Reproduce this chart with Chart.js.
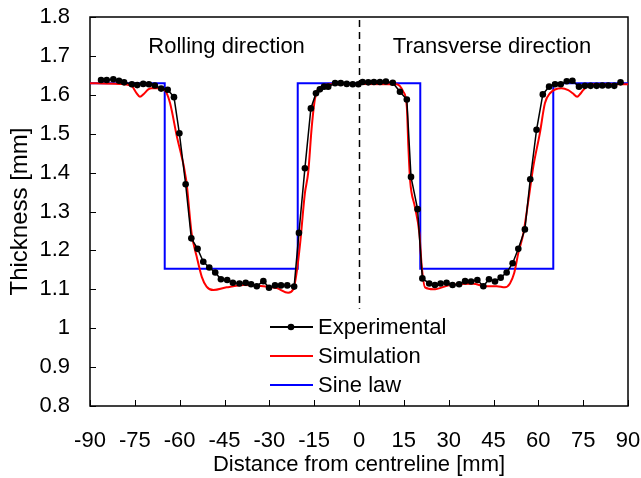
<!DOCTYPE html>
<html>
<head>
<meta charset="utf-8">
<script src="https://cdn.jsdelivr.net/npm/chart.js@4.4.1/dist/chart.umd.min.js"></script>
<style>
  html, body { margin: 0; padding: 0; background: #fff; }
</style>
</head>
<body>
<canvas id="chart" width="641" height="478"></canvas>
<script>
const FONT = '"Liberation Sans", Arial, sans-serif';

// axis ticks
const xTickValues = [-90, -75, -60, -45, -30, -15, 0, 15, 30, 45, 60, 75, 90];
const yTickValues = [0.8, 0.9, 1.0, 1.1, 1.2, 1.3, 1.4, 1.5, 1.6, 1.7, 1.8];

// Experimental (measured thickness)
const expX = [-86.3, -84.4, -82.2, -80.3, -78.6, -76.0, -74.2, -72.2, -70.3, -68.3, -66.2, -64.0, -61.9, -60.1,
  -58.0, -56.1, -54.0, -52.1, -50.1, -48.1, -46.2, -44.1, -42.2, -40.0, -37.9, -36.1, -34.2, -32.0, -30.1, -28.1, -26.1, -24.0, -21.7,
  -20.1, -18.1, -16.1, -14.4, -13.1, -11.7, -10.3, -8.0, -6.1, -4.1, -2.1, -0.2, 1.2, 3.1, 5.0, 7.0, 9.0, 11.3, 13.7, 16.0,
  17.4, 19.6, 21.2, 23.5, 25.4, 27.3, 29.3, 31.3, 33.5, 35.5, 37.5, 39.6, 41.6, 43.5, 45.5, 47.4, 49.4, 51.4, 53.3, 55.5,
  57.3, 59.4, 61.5, 63.6, 65.6, 67.5, 69.5, 71.4, 73.6, 75.6, 77.5, 79.5, 81.4, 83.4, 85.4, 87.5];
const expY = [1.638, 1.638, 1.640, 1.636, 1.632, 1.627, 1.625, 1.628, 1.627, 1.624, 1.616, 1.613, 1.594, 1.501,
  1.370, 1.231, 1.204, 1.171, 1.156, 1.143, 1.126, 1.124, 1.117, 1.115, 1.117, 1.113, 1.108, 1.121, 1.104, 1.110, 1.110, 1.110, 1.107,
  1.245, 1.411, 1.565, 1.604, 1.614, 1.621, 1.621, 1.630, 1.630, 1.628, 1.627, 1.627, 1.633, 1.632, 1.633, 1.633, 1.634, 1.631, 1.608, 1.588,
  1.389, 1.306, 1.128, 1.115, 1.111, 1.115, 1.117, 1.111, 1.113, 1.121, 1.120, 1.124, 1.108, 1.126, 1.120, 1.130, 1.143, 1.167, 1.204, 1.254,
  1.383, 1.510, 1.601, 1.621, 1.627, 1.627, 1.635, 1.636, 1.621, 1.623, 1.623, 1.623, 1.624, 1.624, 1.623, 1.632];

// Simulation
const simX = [-90, -80, -76, -74.5, -73.3, -72, -70.5, -69.4, -66.6, -64.6, -63.2, -61, -57.8, -56, -54.3, -52.6, -51, -48.7,
  -44.3, -38.7, -32, -27.5, -23.7, -22, -20.9, -19.7, -18.1, -17, -15.8, -14.7, -12.5, -9.7, 0, 12.6, 14.8, 16, 16.5, 17.1,
  18.7, 20.2, 21, 22.1, 24.9, 30.4, 38.2, 42.2, 46.1, 48.8, 50.5, 51.9, 53.3, 55, 56.7, 58.3, 60.5, 62.2, 63.9, 67.8, 70,
  71.5, 73, 74, 75, 77.3, 90];
const simY = [1.63, 1.628, 1.622, 1.605, 1.595, 1.602, 1.614, 1.617, 1.617, 1.608, 1.578, 1.495, 1.38, 1.244, 1.184, 1.132, 1.107, 1.098,
  1.105, 1.111, 1.108, 1.103, 1.091, 1.10, 1.141, 1.218, 1.347, 1.40, 1.518, 1.591, 1.621, 1.627, 1.628, 1.627, 1.608, 1.569, 1.47, 1.38,
  1.312, 1.244, 1.158, 1.105, 1.10, 1.111, 1.114, 1.108, 1.108, 1.105, 1.115, 1.141, 1.193, 1.244, 1.33, 1.415, 1.501, 1.578, 1.604, 1.617, 1.612,
  1.604, 1.595, 1.602, 1.612, 1.627, 1.627];

// Sine law (step profile)
const sineX = [-90, -65, -65, -20.5, -20.5, 20.5, 20.5, 65, 65, 90];
const sineY = [1.63, 1.63, 1.153, 1.153, 1.63, 1.63, 1.153, 1.153, 1.63, 1.63];

const seriesNames = ['Experimental', 'Simulation', 'Sine law'];
const seriesColors = ['#000000', '#ff0000', '#0000ff'];
const regionLabels = ['Rolling direction', 'Transverse direction'];
const regionLabelX = [-44.3, 44.5];
const regionLabelY = 1.723;
const centreLineBottom = 1.05;

const toPoints = (xs, ys) => xs.map((x, i) => ({ x, y: ys[i] }));

const decor = {
  id: 'decor',
  beforeDatasetsDraw(chart) {
    const { ctx, chartArea: a, scales: { x, y } } = chart;
    ctx.save();
    ctx.strokeStyle = '#000';

    // dashed centreline
    ctx.lineWidth = 1.5;
    ctx.setLineDash([7, 5]);
    const cx = Math.round(x.getPixelForValue(0)) + 0.5;
    ctx.beginPath();
    ctx.moveTo(cx, a.top + 3);
    ctx.lineTo(cx, y.getPixelForValue(centreLineBottom));
    ctx.stroke();
    ctx.setLineDash([]);

    // frame
    ctx.lineWidth = 1.5;
    ctx.strokeRect(a.left, a.top, a.right - a.left, a.bottom - a.top);

    // inward tick marks
    ctx.lineWidth = 1;
    ctx.beginPath();
    xTickValues.forEach(v => {
      const px = Math.round(x.getPixelForValue(v)) + 0.5;
      ctx.moveTo(px, a.bottom);
      ctx.lineTo(px, a.bottom - 6);
    });
    yTickValues.forEach(v => {
      const py = Math.round(y.getPixelForValue(v)) + 0.5;
      ctx.moveTo(a.left, py);
      ctx.lineTo(a.left + 6, py);
    });
    ctx.stroke();

    // region labels
    ctx.fillStyle = '#000';
    ctx.font = '22px ' + FONT;
    ctx.textAlign = 'center';
    ctx.textBaseline = 'middle';
    regionLabels.forEach((t, i) => {
      ctx.fillText(t, x.getPixelForValue(regionLabelX[i]), y.getPixelForValue(regionLabelY));
    });
    ctx.restore();
  },
  afterDraw(chart) {
    const { ctx } = chart;
    ctx.save();
    ctx.font = '22px ' + FONT;
    ctx.textAlign = 'left';
    ctx.textBaseline = 'middle';
    seriesNames.forEach((name, i) => {
      const yy = 327 + i * 29;
      ctx.strokeStyle = seriesColors[i];
      ctx.lineWidth = 2;
      ctx.beginPath();
      ctx.moveTo(270, yy);
      ctx.lineTo(313, yy);
      ctx.stroke();
      if (i === 0) {
        ctx.fillStyle = '#000';
        ctx.beginPath();
        ctx.arc(291, yy, 3.3, 0, Math.PI * 2);
        ctx.fill();
      }
      ctx.fillStyle = '#000';
      ctx.fillText(name, 318, yy + 1);
    });
    ctx.restore();
  }
};

new Chart(document.getElementById('chart'), {
  type: 'scatter',
  data: {
    datasets: [
      {
        label: seriesNames[0], data: toPoints(expX, expY), showLine: true,
        borderColor: seriesColors[0], borderWidth: 1.5,
        pointRadius: 3.3, pointBackgroundColor: '#000', pointBorderWidth: 0
      },
      {
        label: seriesNames[1], data: toPoints(simX, simY), showLine: true,
        borderColor: seriesColors[1], borderWidth: 2, pointRadius: 0,
        cubicInterpolationMode: 'monotone'
      },
      {
        label: seriesNames[2], data: toPoints(sineX, sineY), showLine: true,
        borderColor: seriesColors[2], borderWidth: 2, pointRadius: 0
      }
    ]
  },
  options: {
    responsive: false,
    animation: false,
    layout: { padding: { top: 17, right: 13, left: 0, bottom: 0 } },
    plugins: { legend: { display: false }, tooltip: { enabled: false } },
    scales: {
      x: {
        type: 'linear', min: -90, max: 90,
        afterBuildTicks: s => { s.ticks = xTickValues.map(v => ({ value: v })); },
        afterFit: s => { s.height = 72; s.paddingLeft = 0; s.paddingRight = 0; },
        grid: { display: false, drawTicks: false }, border: { display: false },
        ticks: { color: '#000', font: { family: FONT, size: 22 }, padding: 22, maxRotation: 0, autoSkip: false },
        title: { display: true, text: 'Distance from centreline [mm]', color: '#000', font: { family: FONT, size: 22 }, padding: { top: 0, bottom: 0 } }
      },
      y: {
        type: 'linear', min: 0.8, max: 1.8,
        afterBuildTicks: s => { s.ticks = yTickValues.map(v => ({ value: v })); },
        afterFit: s => { s.width = 90; s.paddingTop = 0; s.paddingBottom = 0; },
        grid: { display: false, drawTicks: false }, border: { display: false },
        ticks: { color: '#000', font: { family: FONT, size: 22 }, padding: 20, autoSkip: false,
          callback: v => String(Number(v.toFixed(1))) },
        title: { display: true, text: 'Thickness [mm]', color: '#000', font: { family: FONT, size: 24 }, padding: { top: 6, bottom: 0 } }
      }
    }
  },
  plugins: [decor]
});
</script>
</body>
</html>
